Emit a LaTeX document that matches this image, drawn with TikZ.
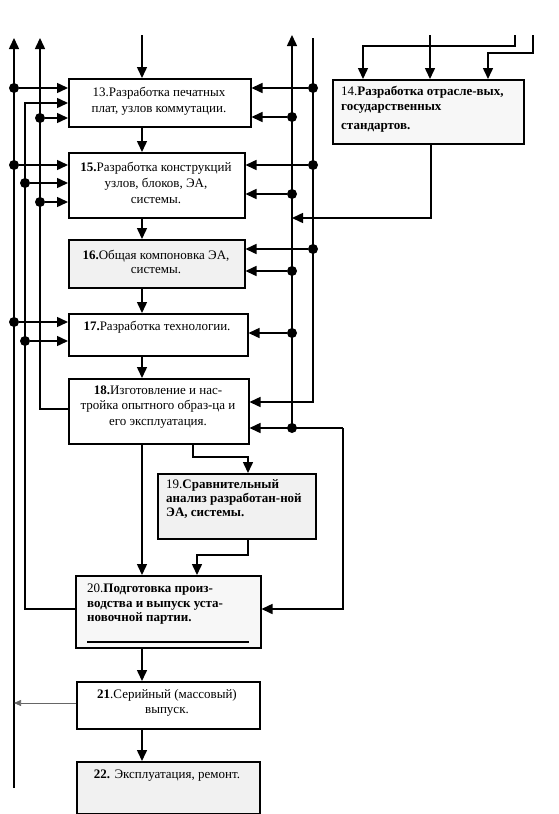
\documentclass[tikz,border=0pt]{standalone}
\usepackage{fontspec}
\setmainfont{Liberation Serif}
\usetikzlibrary{arrows.meta,calc}
\begin{document}
\begin{tikzpicture}[x=1pt,y=-1pt,
  box/.style={draw, line width=1.5pt, inner sep=0pt, anchor=north west},
  txt/.style={font=\fontsize{13}{15.5}\selectfont, inner sep=0pt, align=center},
  ln/.style={line width=1.5pt},
  arr/.style={line width=1.5pt, -{Triangle[length=11pt,width=10pt]}},
  thinarr/.style={line width=0.6pt, draw=black!60, -{Triangle[length=7pt,width=6pt]}},
  dot/.style={circle, fill, inner sep=0pt, minimum size=10pt},
]
\useasboundingbox (0,0) rectangle (558,814);

% boxes
\node[box, minimum width=182pt, minimum height=48pt] (b13) at (68,78) {};
\node[box, fill=gray!6, minimum width=191pt, minimum height=64pt] (b14) at (332,79) {};
\node[box, minimum width=176pt, minimum height=65pt] (b15) at (68,152) {};
\node[box, fill=gray!11, minimum width=176pt, minimum height=48pt] (b16) at (68,239) {};
\node[box, minimum width=179pt, minimum height=42pt] (b17) at (68,313) {};
\node[box, minimum width=180pt, minimum height=65pt] (b18) at (68,378) {};
\node[box, fill=gray!11, minimum width=158pt, minimum height=65pt] (b19) at (157,473) {};
\node[box, fill=gray!6, minimum width=185pt, minimum height=72pt] (b20) at (75,575) {};
\node[box, minimum width=183pt, minimum height=47pt] (b21) at (76,681) {};
\node[box, fill=gray!11, minimum width=183pt, minimum height=52pt] (b22) at (76,761) {};

% texts
\node[txt, font=\fontsize{13}{16}\selectfont] (t13) at (159,101) {13.Разработка печатных\\плат, узлов коммутации.};
\node[txt, anchor=north west, align=left, font=\fontsize{13}{14.5}\selectfont] (t14) at (341,86) {14.\textbf{Разработка отрасле-вых,}\\\textbf{государственных}\\[5pt]\textbf{стандартов.}};
\node[txt, font=\fontsize{13}{16}\selectfont] (t15) at (156,183) {\textbf{15.}Разработка конструкций\\узлов, блоков, ЭА,\\системы.};
\node[txt, font=\fontsize{13}{13.5}\selectfont] (t16) at (156,262) {\textbf{16.}Общая компоновка ЭА,\\системы.};
\node[txt] (t17) at (157,327) {\textbf{17.}Разработка технологии.};
\node[txt] (t18) at (158,407) {\textbf{18.}Изготовление и нас-\\тройка опытного образ-ца и\\его эксплуатация.};
\node[txt, anchor=north west, align=left, font=\fontsize{13}{14}\selectfont] (t19) at (166,479) {19.\textbf{Сравнительный}\\\textbf{анализ разработан-ной}\\\textbf{ЭА, системы.}};
\node[txt, anchor=north west, align=left, font=\fontsize{13}{14.5}\selectfont] (t20) at (87,584) {20.\textbf{Подготовка произ-}\\\textbf{водства и выпуск уста-}\\\textbf{новочной партии.}};
\node[txt] (t21) at (167,703) {\textbf{21}.Серийный (массовый)\\выпуск.};
\node[txt] (t22) at (167,776) {\textbf{22.} Эксплуатация, ремонт.};

% underline in box 20
\coordinate (u1) at (87,642);
\coordinate (u2) at (249,642);
\draw[line width=2.2pt] (u1) -- (u2);

% central chain
\coordinate (s13) at (142,35);
\draw[arr] (s13) -- (s13 |- b13.north);
\draw[arr] (s13 |- b13.south) -- (s13 |- b15.north);
\draw[arr] (s13 |- b15.south) -- (s13 |- b16.north);
\draw[arr] (s13 |- b16.south) -- (s13 |- b17.north);
\draw[arr] (s13 |- b17.south) -- (s13 |- b18.north);
\draw[arr] (s13 |- b18.south) -- (s13 |- b20.north);
\draw[arr] (s13 |- b20.south) -- (s13 |- b21.north);
\draw[arr] (s13 |- b21.south) -- (s13 |- b22.north);

% 18 -> 19 -> 20
\coordinate (k18) at (193,457);
\coordinate (k19) at (248,457);
\draw[arr] (k18 |- b18.south) -- (k18) -- (k19) -- (k19 |- b19.north);
\coordinate (k19b) at (248,555);
\coordinate (k20) at (197,555);
\draw[arr] (k19b |- b19.south) -- (k19b) -- (k20) -- (k20 |- b20.north);

% inputs to box 14
\coordinate (s14a) at (515,35);
\coordinate (k14a) at (363,46);
\draw[arr] (s14a) |- (k14a) -- (k14a |- b14.north);
\coordinate (s14b) at (430,35);
\draw[arr] (s14b) -- (s14b |- b14.north);
\coordinate (s14c) at (533,35);
\coordinate (k14c) at (488,53);
\draw[arr] (s14c) |- (k14c) -- (k14c |- b14.north);

% left buses
\coordinate (L1t) at (14,38);
\coordinate (L1b) at (14,788);
\draw[arr] (L1b) -- (L1t);
\coordinate (L2t) at (25,103);
\coordinate (L2b) at (25,609);
\draw[arr] (L2b -| b20.west) -- (L2b) -- (L2t) -- (L2t -| b13.west);
\coordinate (L3t) at (40,38);
\coordinate (L3b) at (40,409);
\draw[arr] (L3b -| b18.west) -- (L3b) -- (L3t);

% right buses
\coordinate (R1t) at (292,35);
\coordinate (R1b) at (292,428);
\draw[arr] (R1b) -- (R1t);
\coordinate (R2t) at (313,38);
\coordinate (R2b) at (313,402);
\draw[arr] (R2t) -- (R2b) -- (R2b -| b18.east);
\coordinate (k20r) at (343,428);
\coordinate (k20s) at (343,609);
\draw[arr] (k20r) -- (k20s) -- (k20s -| b20.east);
\draw[arr] (k20r) -- (k20r -| b18.east);

% box 14 output
\coordinate (k14d) at (431,218);
\coordinate (R1m) at (292,218);
\draw[arr] (k14d |- b14.south) -- (k14d) -- (R1m);

% box 21 output
\coordinate (L1m) at (14,703);
\draw[thinarr] (b21.west |- L1m) -- (L1m);

% left dots and arrows
\foreach \n/\x/\y/\b in {a/14/88/b13, b/40/118/b13, c/14/165/b15, d/25/183/b15, e/40/202/b15, f/14/322/b17, g/25/341/b17}{
  \node[dot] (dl\n) at (\x,\y) {};
  \draw[arr] (dl\n) -- (dl\n -| \b.west);
}
% right dots and arrows
\foreach \n/\x/\y/\b in {a/313/88/b13, b/292/117/b13, c/313/165/b15, d/292/194/b15, e/313/249/b16, f/292/271/b16, g/292/333/b17}{
  \node[dot] (dr\n) at (\x,\y) {};
  \draw[arr] (dr\n) -- (dr\n -| \b.east);
}
\node[dot] (drh) at (R1b) {};
\end{tikzpicture}
\end{document}
